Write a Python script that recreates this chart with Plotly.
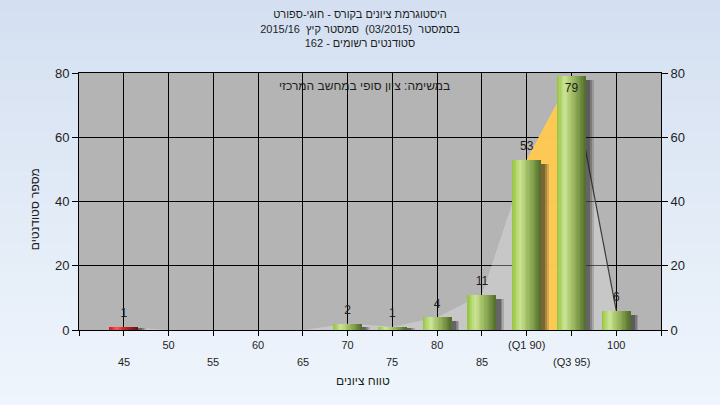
import plotly.graph_objects as go

# ---- data ----
grades = [45, 50, 55, 60, 65, 70, 75, 80, 85, 90, 95, 100]
counts = [1, 0, 0, 0, 0, 2, 1, 4, 11, 53, 79, 6]
tick_labels = ['45', '50', '55', '60', '65', '70', '75', '80', '85', '(Q1 90)', '(Q3 95)', '100']
q1_grade = 90
q3_grade = 95
fail_below = 55

title_lines = ['היסטוגרמת ציונים בקורס - חוגי-ספורט',
               'בסמסטר  (03/2015)  סמסטר קיץ  2015/16',
               'סטודנטים רשומים - 162']
note_text = 'במשימה: ציון סופי במחשב המרכזי'
x_title = 'טווח ציונים'
y_title = 'מספר סטודנטים'

FONT = 'Liberation Sans, DejaVu Sans, Arial, sans-serif'
TXT = '#1e1e1e'


def hex2rgb(h):
    h = h.lstrip('#')
    return tuple(int(h[i:i + 2], 16) for i in (0, 2, 4))


def interp(stops, t):
    for (t0, c0), (t1, c1) in zip(stops[:-1], stops[1:]):
        if t0 <= t <= t1:
            f = (t - t0) / (t1 - t0) if t1 > t0 else 0
            a, b = hex2rgb(c0), hex2rgb(c1)
            return 'rgb(%d,%d,%d)' % tuple(round(a[k] + (b[k] - a[k]) * f) for k in range(3))
    return stops[-1][1]


green_stops = [(0, '#93c23c'), (0.28, '#cce597'), (0.5, '#a8c46a'), (0.78, '#7b9848'), (1, '#526c2c')]
red_stops = [(0, '#d81414'), (0.28, '#ff5a5a'), (0.5, '#cc2a2a'), (0.78, '#951c1c'), (1, '#6a1010')]

fig = go.Figure()

# background gradient (paper) and plot area
W, H = 720, 405
ml, mr, mt, mb = 79, 59, 73, 75
pw, ph = W - ml - mr, H - mt - mb
shapes = []
nb = 40
top_c, bot_c = '#d4e0f1', '#eff5fc'
for i in range(nb):
    col = interp([(0, top_c), (1, bot_c)], i / (nb - 1))
    y0 = 1 + mt / ph - i * (H / ph) / nb
    y1 = y0 - (H / ph) / nb - 0.003
    shapes.append(dict(type='rect', xref='paper', yref='paper', x0=-ml / pw - 0.01,
                       x1=1 + mr / pw + 0.01, y0=y1, y1=y0, line_width=0,
                       fillcolor=col, layer='below'))
shapes.append(dict(type='rect', xref='paper', yref='paper', x0=0, x1=1, y0=0, y1=1,
                   line_width=0, fillcolor='#b4b4b4', layer='below'))

# frequency polygon area (main y axis, drawn beneath the bars)
fig.add_trace(go.Scatter(x=grades, y=counts, mode='lines', line=dict(width=0, color='rgba(0,0,0,0)'),
                         fill='tozeroy', fillcolor='rgba(235,235,235,0.35)', hoverinfo='skip',
                         showlegend=False))
i1, i3 = grades.index(q1_grade), grades.index(q3_grade)
fig.add_trace(go.Scatter(x=grades[i1:i3 + 1], y=counts[i1:i3 + 1], mode='lines',
                         line=dict(width=0, color='rgba(0,0,0,0)'), fill='tozeroy',
                         fillcolor='rgba(255,200,80,0.97)', hoverinfo='skip', showlegend=False))
fig.add_trace(go.Scatter(x=grades[i3:], y=counts[i3:], mode='lines',
                         line=dict(width=1.2, color='#3c3c3c'), hoverinfo='skip', showlegend=False))

# bars on overlaying axis y2 (drawn above the area)
bw = 3.15
shadow_top = [max(c - 1.3, c * 0.5) for c in counts]
for off, a in [(0.9, 0.18), (0.7, 0.25), (0.5, 0.32)]:
    fig.add_trace(go.Bar(x=grades, y=shadow_top, width=bw, offset=-bw / 2 + off, yaxis='y2',
                         marker=dict(color='rgba(30,30,30,%.2f)' % a, line_width=0),
                         hoverinfo='skip', showlegend=False))
N = 22
for i in range(N):
    t = (i + 0.5) / N
    cols = [interp(red_stops if g < fail_below else green_stops, t) for g in grades]
    fig.add_trace(go.Bar(x=grades, y=counts, width=bw / N + 0.04, offset=-bw / 2 + i * bw / N,
                         yaxis='y2', marker=dict(color=cols, line_width=0),
                         hoverinfo='skip', showlegend=False))

# value labels
ymax = 80
fig.add_trace(go.Scatter(x=grades, y=counts, mode='markers+text', yaxis='y2',
                         marker=dict(size=9, color='rgba(0,0,0,0)'),
                         text=[str(c) if c else '' for c in counts],
                         textposition=['bottom center' if c > ymax - 5 else 'top center' for c in counts],
                         textfont=dict(family=FONT, size=12, color=TXT), hoverinfo='skip',
                         showlegend=False, cliponaxis=False))

step = grades[1] - grades[0]
tickvals = [grades[0] - step] + grades + [grades[-1] + step]
top_row = [''] + [lab if k % 2 == 1 else '' for k, lab in enumerate(tick_labels)] + ['']

annotations = []
for k, (g, lab) in enumerate(zip(grades, tick_labels)):
    if k % 2 == 0:
        annotations.append(dict(x=g, y=0, xref='x', yref='paper', text=lab, showarrow=False,
                                yanchor='middle', yshift=-32, font=dict(family=FONT, size=11, color=TXT)))
annotations.append(dict(x=0.5, y=0, xref='paper', yref='paper', text=x_title, showarrow=False,
                        yanchor='middle', yshift=-51, xshift=-7, font=dict(family=FONT, size=12, color=TXT)))
annotations.append(dict(x=0, y=0.47, xref='paper', yref='paper', text=y_title, showarrow=False,
                        textangle=-90, xanchor='center', yanchor='middle', xshift=-44,
                        font=dict(family=FONT, size=12, color=TXT)))
annotations.append(dict(x=0.491, y=1, xref='paper', yref='paper', text=note_text, showarrow=False,
                        yanchor='middle', yshift=-13, font=dict(family=FONT, size=12, color=TXT)))

yticks = list(range(0, ymax + 1, 20))
fig.update_layout(
    width=W, height=H,
    margin=dict(l=ml, r=mr, t=mt, b=mb),
    paper_bgcolor='#e2ecf8', plot_bgcolor='rgba(0,0,0,0)',
    barmode='overlay', bargap=0,
    shapes=shapes, annotations=annotations,
    title=dict(text='<br>'.join(title_lines), x=0.5, xref='container', y=0.955, yref='container',
               xanchor='center', yanchor='top', font=dict(family=FONT, size=11, color=TXT)),
    xaxis=dict(range=[tickvals[0], tickvals[-1]], tickmode='array', tickvals=tickvals, ticktext=top_row,
               showgrid=True, gridcolor='black', gridwidth=1, showline=True, linecolor='black',
               linewidth=1, mirror=True, ticks='outside', ticklen=5, tickcolor='black',
               tickfont=dict(family=FONT, size=11, color=TXT), zeroline=False),
    yaxis=dict(range=[0, ymax], tickmode='array', tickvals=yticks, showgrid=True, gridcolor='black',
               gridwidth=1, showline=True, linecolor='black', linewidth=1, mirror=True,
               ticks='outside', ticklen=6, tickcolor='black', zeroline=False,
               tickfont=dict(family=FONT, size=13, color=TXT)),
    yaxis2=dict(range=[0, ymax], tickmode='array', tickvals=yticks, overlaying='y', side='right',
                showgrid=False, ticks='outside', ticklen=6, tickcolor='black', zeroline=False,
                showline=True, linecolor='black', tickfont=dict(family=FONT, size=13, color=TXT)),
    font=dict(family=FONT, color=TXT),
)

fig.write_html('out.html', config={'displayModeBar': False},
               post_script="document.body.style.margin='0';")
